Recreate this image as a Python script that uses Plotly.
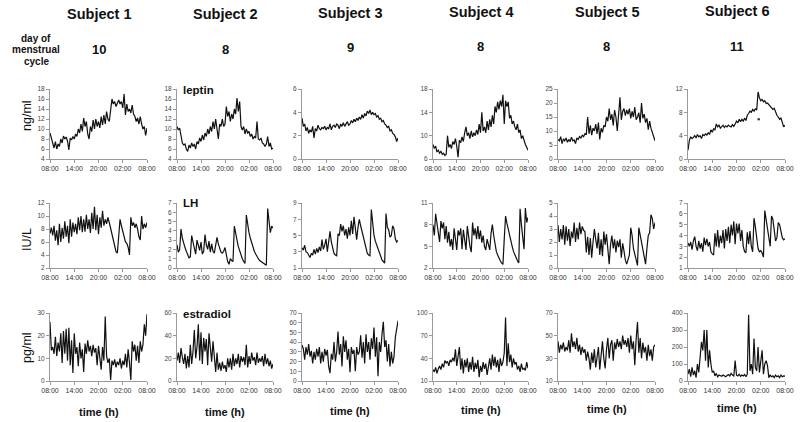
import numpy as np
import plotly.graph_objects as go

subjects = ["Subject 1", "Subject 2", "Subject 3", "Subject 4", "Subject 5", "Subject 6"]
cycle_days = ["10", "8", "9", "8", "8", "11"]
hormones = ["leptin", "LH", "estradiol"]
units = ["ng/ml", "IU/L", "pg/ml"]
time_ticks = [0, 6, 12, 18, 24]
time_labels = ["08:00", "14:00", "20:00", "02:00", "08:00"]

# ---- leptin (ng/ml), 20-min samples from 08:00 to 08:00 ----
leptin_s1 = [9.2, 8.0, 7.0, 6.2, 7.5, 6.0, 7.0, 6.5, 8.0, 7.2, 8.6, 8.0, 8.4, 7.6, 5.8, 8.2, 7.8, 8.5, 8.0, 9.0,
             8.5, 10.0, 9.2, 11.0, 9.5, 12.2, 10.5, 11.5, 9.0, 8.0, 10.5, 9.5, 11.8, 10.0, 12.0, 10.5, 11.5, 10.2,
             12.5, 10.8, 12.8, 11.0, 13.5, 12.0, 11.5, 14.0, 16.0, 15.0, 15.5, 14.5, 15.2, 15.8, 15.0, 15.5, 14.2,
             17.0, 12.8, 15.0, 13.5, 14.0, 13.2, 14.8, 13.0, 12.5, 11.5, 12.2, 11.0, 12.5, 11.0, 10.0, 10.5, 8.7, 10.2]
leptin_s2 = [10.5, 9.8, 10.2, 8.5, 7.2, 6.8, 7.0, 6.0, 5.5, 6.8, 6.2, 7.2, 6.5, 7.0, 6.0, 7.5, 7.0, 8.2, 7.5, 8.8,
             7.8, 9.2, 8.5, 10.0, 9.0, 10.5, 9.5, 11.5, 10.0, 12.0, 9.5, 8.0, 11.0, 10.5, 12.0, 10.5, 11.0, 14.5,
             12.5, 13.5, 11.5, 13.0, 12.0, 14.0, 13.0, 16.2, 13.5, 15.5, 10.5, 9.8, 10.5, 9.0, 10.0, 9.2, 9.5, 8.5,
             9.0, 8.0, 8.5, 8.2, 11.5, 8.0, 7.8, 8.2, 7.2, 7.0, 6.5, 7.0, 8.5, 6.5, 7.2, 6.0, 6.2]
leptin_s3 = [3.5, 2.8, 3.0, 2.4, 2.7, 2.2, 2.5, 2.3, 2.8, 1.8, 2.6, 2.4, 2.9, 2.6, 2.5, 2.7, 2.6, 2.8, 2.5, 2.7,
             2.6, 3.0, 2.5, 2.8, 2.9, 2.7, 3.0, 2.9, 2.6, 3.0, 2.8, 3.1, 2.8, 3.0, 3.2, 2.9, 3.0, 3.3, 3.1, 3.4,
             3.2, 3.5, 3.3, 3.6, 3.4, 3.8, 3.5, 3.9, 3.7, 4.1, 3.9, 4.2, 3.8, 4.0, 3.8, 3.9, 3.6, 3.7, 3.4, 3.5,
             3.2, 3.3, 3.0, 2.9, 2.7, 2.8, 2.4, 2.5, 2.2, 2.1, 1.9, 1.5, 1.8]
leptin_s4 = [8.5, 7.8, 8.2, 7.2, 7.5, 7.0, 7.3, 6.8, 7.0, 6.6, 6.8, 10.0, 8.0, 8.5, 7.8, 9.0, 8.5, 9.5, 8.2, 6.3,
             9.2, 8.8, 9.8, 9.0, 10.5, 11.5, 10.0, 10.5, 9.5, 10.8, 9.8, 10.5, 10.0, 11.0, 10.2, 12.0, 10.5, 14.0,
             10.8, 11.5, 10.5, 12.5, 11.0, 12.8, 11.5, 13.5, 12.0, 15.0, 14.0, 15.8, 14.5, 16.0, 15.0, 17.0, 12.0,
             16.0, 15.0, 15.8, 13.0, 13.5, 12.0, 12.5, 11.5, 11.0, 12.0, 10.5, 11.0, 9.5, 10.0, 9.0, 8.5, 8.0, 7.5]
leptin_s5 = [7.0, 6.5, 8.0, 5.5, 7.2, 6.5, 7.5, 6.0, 7.0, 6.2, 7.8, 6.5, 6.8, 5.5, 7.5, 7.0, 8.0, 7.5, 8.5, 8.0,
             9.0, 8.8, 15.0, 9.0, 12.0, 8.5, 11.0, 10.0, 12.5, 9.0, 13.0, 7.0, 11.0, 9.5, 12.0, 11.5, 15.0, 13.5,
             18.0, 14.0, 16.0, 12.0, 17.5, 15.0, 10.0, 15.0, 22.0, 14.0, 17.0, 18.0, 15.5, 17.5, 16.0, 18.0, 14.5,
             17.0, 15.0, 18.5, 14.0, 15.0, 16.5, 13.0, 20.0, 14.5, 16.0, 13.0, 14.5, 10.5, 13.5, 11.0, 9.5, 8.5, 6.5]
leptin_s6 = [1.5, 3.2, 3.8, 3.5, 3.7, 4.0, 3.6, 4.2, 3.8, 4.0, 3.5, 4.2, 4.0, 4.3, 4.1, 4.5, 4.2, 5.0, 4.6, 5.2,
             5.0, 6.0, 5.5, 5.8, 5.3, 5.6, 5.8, 5.4, 5.7, 5.5, 5.8, 5.6, 5.5, 5.9, 5.6, 6.0, 6.5, 6.2, 6.8, 6.4,
             6.8, 6.5, 7.0, 6.6, 7.5, 7.8, 8.2, 8.0, 8.5, 8.2, 8.6, 8.4, 11.5, 10.5, 10.0, 10.2, 9.8, 10.0, 9.5,
             9.6, 9.3, 9.0, 8.8, 8.5, 8.7, 8.0, 7.5, 7.2, 6.8, 7.0, 6.2, 5.5, 5.8]
leptin_s6_outlier_time = [17.5]
leptin_s6_outlier_value = [6.8]

# ---- LH (IU/L) ----
lh_s1 = [7.3, 8.2, 7.0, 8.5, 6.2, 7.8, 5.5, 8.8, 6.0, 8.2, 6.5, 9.2, 6.8, 8.5, 5.8, 9.5, 6.8, 9.0, 7.5, 8.8,
         7.2, 9.8, 7.8, 10.0, 7.5, 9.5, 7.6, 10.2, 8.0, 9.5, 7.4, 10.5, 8.0, 11.4, 7.8, 10.2, 7.2, 9.8, 8.2, 10.8,
         8.5, 9.5, 8.8, 9.8, 9.0, 8.0, 7.2, 6.0, 5.0, 4.5, 4.3, 7.5, 9.5, 8.5, 7.8, 7.0, 6.0, 5.8, 5.2, 4.0,
         9.8, 8.5, 9.0, 8.2, 8.8, 8.0, 6.8, 6.3, 10.0, 8.0, 8.8, 8.2, 9.0]
lh_s2 = [2.5, 1.7, 2.0, 4.2, 3.2, 2.6, 2.2, 1.8, 1.4, 1.1, 1.2, 3.5, 2.8, 2.0, 1.5, 3.0, 2.4, 1.9, 2.8, 1.5,
         1.8, 3.6, 2.5, 2.0, 2.9, 1.7, 2.6, 1.8, 1.6, 2.5, 3.3, 2.6, 2.0, 1.7, 1.6, 1.8, 2.2, 1.4, 0.7, 0.4,
         1.0, 0.8, 0.7, 4.5, 3.5, 3.0, 2.3, 1.8, 1.3, 1.0, 0.7, 0.5, 5.7, 4.5, 3.8, 3.2, 2.7, 2.2, 1.8, 1.5,
         1.2, 1.0, 0.8, 0.7, 0.6, 0.5, 0.4, 0.3, 6.4, 5.0, 3.8, 4.5, 4.3]
lh_s3 = [3.5, 3.2, 3.8, 3.0, 2.9, 2.6, 2.3, 2.8, 2.6, 3.3, 2.7, 3.4, 2.9, 3.6, 3.1, 4.5, 3.3, 3.8, 4.6, 3.0,
         4.2, 5.5, 4.2, 3.3, 2.8, 2.6, 2.5, 5.2, 5.0, 6.4, 5.5, 6.2, 5.0, 5.8, 4.6, 6.0, 5.0, 6.8, 5.2, 7.3,
         5.5, 4.5, 6.0, 7.0, 6.2, 5.5, 4.8, 3.8, 3.2, 2.8, 2.6, 2.5, 8.2, 6.5, 5.0, 4.3, 3.8, 3.3, 2.8, 2.3,
         2.0, 1.8, 1.6, 7.7, 6.0, 5.7, 4.8, 5.0, 6.2, 5.8, 4.6, 4.2, 4.4]
lh_s4 = [8.0, 6.5, 9.5, 8.2, 7.0, 5.6, 8.5, 7.5, 8.3, 6.0, 7.8, 5.5, 7.0, 5.0, 6.0, 4.5, 7.5, 6.0, 4.5, 7.2,
         6.5, 7.5, 4.6, 7.3, 6.0, 4.5, 7.8, 6.2, 5.0, 4.2, 8.3, 6.5, 7.5, 6.0, 7.8, 6.0, 7.2, 5.5, 6.5, 5.0,
         4.5, 6.0, 5.2, 4.5, 6.8, 8.0, 6.5, 5.2, 4.3, 3.8, 3.3, 3.0, 2.7, 2.5, 6.0, 9.2, 8.2, 7.3, 6.5, 5.7,
         5.0, 4.3, 3.8, 3.3, 3.0, 2.7, 10.2, 8.0, 6.0, 4.6, 10.3, 8.3, 9.0]
lh_s5 = [3.3, 2.0, 3.0, 2.2, 3.3, 1.8, 3.2, 2.1, 3.0, 1.7, 2.8, 2.3, 3.5, 2.0, 3.1, 2.2, 3.5, 2.6, 3.2, 2.9,
         2.8, 1.2, 2.4, 1.0, 2.3, 0.8, 2.0, 3.0, 2.2, 1.5, 2.7, 1.0, 2.2, 0.9, 2.8, 1.8, 2.6, 1.5, 0.3, 1.8,
         2.5, 1.5, 2.2, 1.2, 2.1, 1.6, 2.2, 0.8, 1.9, 1.3, 0.6, 0.3, 0.6, 1.0, 3.1, 2.5, 1.5, 1.0, 0.5, 0.2,
         3.1, 2.5, 2.0, 1.4, 0.6, 0.3, 1.5, 2.5, 2.7, 4.1, 3.8, 3.0, 3.5]
lh_s6 = [3.3, 3.0, 3.4, 2.7, 3.5, 3.9, 3.0, 2.6, 3.5, 2.8, 3.3, 2.5, 3.8, 3.1, 3.7, 3.0, 3.4, 2.5, 2.3, 2.2,
         4.2, 3.0, 4.5, 2.9, 4.0, 3.3, 4.5, 2.8, 4.6, 3.5, 4.8, 3.3, 5.0, 4.0, 5.3, 3.2, 5.1, 4.2, 5.1, 3.5,
         4.5, 3.0, 2.5, 2.4, 4.3, 3.2, 4.4, 3.0, 2.5, 5.6, 4.8, 3.5, 2.8, 2.5, 2.6, 2.4, 2.0, 6.3, 5.5, 4.5,
         3.8, 3.0, 5.8, 5.5, 4.5, 3.5, 3.8, 5.2, 5.0, 4.2, 3.8, 3.6, 3.7]

# ---- estradiol (pg/ml) ----
e2_s1 = [26.0, 13.5, 15.0, 12.0, 19.5, 11.0, 17.0, 13.0, 21.0, 8.0, 22.0, 12.0, 23.0, 9.0, 23.5, 7.0, 18.0, 3.5,
         21.0, 12.0, 15.0, 6.5, 17.0, 10.0, 14.0, 4.0, 16.5, 12.0, 18.0, 13.0, 15.5, 11.0, 16.0, 12.5, 14.5, 7.0,
         15.5, 10.0, 5.0, 15.0, 9.0, 28.5, 11.0, 8.0, 10.0, 0.5, 9.0, 7.0, 9.5, 6.0, 8.5, 7.0, 10.0, 5.5, 9.0,
         7.0, 12.0, 6.0, 14.0, 8.0, 0.5, 17.5, 13.0, 16.0, 9.0, 15.5, 8.0, 17.5, 13.0, 16.0, 25.0, 20.0, 29.5]
e2_s2 = [18, 25, 16, 29, 21, 15, 24, 11, 22, 12, 32, 15, 26, 45, 20, 30, 50, 18, 43, 15, 38, 26, 37, 14, 42,
         28, 17, 35, 19, 8, 25, 10, 16, 9, 17, 11, 14, 8, 20, 12, 20, 10, 24, 13, 20, 15, 24, 12, 22, 17, 21,
         14, 32, 12, 22, 15, 25, 18, 21, 14, 25, 16, 20, 17, 22, 13, 24, 15, 20, 13, 18, 11, 15]
e2_s3 = [37, 33, 22, 35, 27, 38, 25, 31, 18, 30, 22, 33, 25, 35, 18, 30, 20, 33, 26, 32, 15, 8, 28, 22, 40,
         20, 30, 51, 27, 38, 15, 46, 30, 42, 22, 33, 9, 35, 28, 32, 10, 35, 27, 30, 47, 24, 40, 18, 48, 30, 40,
         22, 44, 33, 55, 25, 45, 5, 40, 30, 48, 61, 35, 42, 20, 38, 15, 30, 18, 25, 45, 55, 62]
e2_s4 = [25, 22, 28, 20, 26, 30, 25, 33, 28, 37, 34, 36, 30, 38, 35, 41, 36, 52, 30, 44, 55, 25, 40, 20, 38,
         28, 40, 22, 35, 25, 42, 22, 34, 26, 38, 15, 30, 22, 35, 26, 33, 18, 28, 40, 25, 45, 30, 42, 28, 38, 22,
         40, 30, 35, 47, 94, 30, 60, 35, 45, 28, 40, 32, 35, 25, 30, 22, 33, 25, 27, 24, 35, 27]
e2_s5 = [45, 35, 42, 38, 44, 36, 40, 37, 46, 35, 52, 40, 45, 38, 48, 36, 42, 33, 40, 35, 38, 28, 36, 30, 20,
         35, 26, 38, 22, 30, 40, 20, 32, 45, 30, 21, 38, 48, 30, 42, 46, 28, 44, 38, 47, 40, 45, 38, 50, 42, 46,
         40, 48, 35, 50, 38, 45, 24, 47, 62, 35, 48, 30, 44, 35, 40, 28, 42, 32, 38, 28, 40, 42]
e2_s6 = [40, 70, 25, 80, 35, 60, 20, 100, 50, 130, 230, 180, 300, 120, 300, 80, 180, 100, 50, 60, 30, 45, 25,
         35, 30, 28, 35, 30, 25, 32, 38, 30, 45, 35, 30, 120, 35, 30, 40, 28, 35, 30, 38, 25, 40, 390, 60, 100,
         40, 250, 80, 60, 200, 50, 110, 180, 40, 100, 120, 90, 20, 35, 25, 30, 20, 35, 25, 30, 20, 35, 25, 30, 28]

series = [
    [leptin_s1, leptin_s2, leptin_s3, leptin_s4, leptin_s5, leptin_s6],
    [lh_s1, lh_s2, lh_s3, lh_s4, lh_s5, lh_s6],
    [e2_s1, e2_s2, e2_s3, e2_s4, e2_s5, e2_s6],
]

y_ranges = [
    [[4, 18], [4, 18], [0, 6], [6, 18], [0, 25], [0, 12]],
    [[2, 12], [0, 7], [1, 9], [2, 11], [0, 5], [1, 7]],
    [[0, 30], [0, 60], [0, 70], [10, 100], [10, 70], [0, 400]],
]
y_ticks = [
    [[4, 6, 8, 10, 12, 14, 16, 18], [4, 6, 8, 10, 12, 14, 16, 18], [0, 2, 4, 6], [6, 10, 14, 18],
     [0, 5, 10, 15, 20, 25], [0, 4, 8, 12]],
    [[2, 4, 6, 8, 10, 12], [0, 1, 2, 3, 4, 5, 6, 7], [1, 3, 5, 7, 9], [2, 5, 8, 11], [0, 1, 2, 3, 4, 5],
     [1, 2, 3, 4, 5, 6, 7]],
    [[0, 10, 20, 30], [0, 20, 40, 60], [0, 10, 20, 30, 40, 50, 60, 70], [10, 40, 70, 100], [10, 30, 50, 70],
     [0, 100, 200, 300, 400]],
]

W, H = 800, 422
col_px = [(50, 147), (177, 273), (302, 398), (433, 528), (558, 655), (688, 785)]
row_px = [(89, 159), (203, 268), (313, 381)]

FONT = "Arial, Liberation Sans, Helvetica, sans-serif"
fig = go.Figure()
layout = {}
n = 0
for r in range(3):
    for c in range(6):
        n += 1
        vals = series[r][c]
        t = np.linspace(0, 24, len(vals))
        xa = "x" if n == 1 else f"x{n}"
        ya = "y" if n == 1 else f"y{n}"
        fig.add_trace(go.Scatter(x=t, y=vals, mode="lines", xaxis=xa, yaxis=ya,
                                 line=dict(color="#111", width=1.2), hoverinfo="skip"))
        x0, x1 = col_px[c]
        yt, yb = row_px[r]
        layout["xaxis" if n == 1 else f"xaxis{n}"] = dict(
            domain=[x0 / W, x1 / W], anchor=ya, range=[0, 24], tickvals=time_ticks, ticktext=time_labels,
            showgrid=False, zeroline=False, showline=True, linecolor="#999", linewidth=1, automargin=False,
            ticks="outside", ticklen=3, tickcolor="#999", tickfont=dict(family=FONT, size=7, color="#333"))
        layout["yaxis" if n == 1 else f"yaxis{n}"] = dict(
            domain=[1 - yb / H, 1 - yt / H], anchor=xa, range=y_ranges[r][c], tickvals=y_ticks[r][c],
            showgrid=False, zeroline=False, showline=True, linecolor="#999", linewidth=1, automargin=False,
            ticks="outside", ticklen=3, tickcolor="#999", tickfont=dict(family=FONT, size=6.5, color="#444"))

# single outlying leptin sample in subject 6
fig.add_trace(go.Scatter(x=leptin_s6_outlier_time, y=leptin_s6_outlier_value, mode="markers",
                         xaxis="x6", yaxis="y6", marker=dict(color="#333", size=2.5), hoverinfo="skip"))

ann = []
def add_text(text, px, py, size, bold=False, xanchor="center", angle=0):
    ann.append(dict(text=f"<b>{text}</b>" if bold else text, x=px / W, y=1 - py / H, xref="paper", yref="paper",
                    showarrow=False, xanchor=xanchor, yanchor="middle", textangle=angle,
                    font=dict(family=FONT, size=size, color="#111")))

title_y = [14, 14, 13, 12, 12, 11]
day_y = [49, 49, 48, 47, 47, 46]
time_y = [412, 412, 411, 410, 409, 408]
for c in range(6):
    cx = (col_px[c][0] + col_px[c][1]) / 2
    add_text(subjects[c], cx, title_y[c], 14.5, bold=True)
    add_text(cycle_days[c], cx, day_y[c], 13, bold=True)
    add_text("time (h)", cx, time_y[c], 11, bold=True)

add_text("day of", 36, 38, 10, bold=True)
add_text("menstrual", 36, 49.5, 10, bold=True)
add_text("cycle", 36, 61, 10, bold=True)

unit_y = [116, 240, 348]
for r in range(3):
    add_text(units[r], 27, unit_y[r], 12.5, angle=-90)

hormone_pos = [(181, 90), (181, 203), (181, 314)]
for r in range(3):
    add_text(hormones[r], hormone_pos[r][0], hormone_pos[r][1], 11.5, bold=True, xanchor="left")

fig.update_layout(**layout)
fig.update_layout(template="none", width=W, height=H, margin=dict(l=0, r=0, t=0, b=0, pad=0),
                  showlegend=False, plot_bgcolor="white", paper_bgcolor="white", annotations=ann,
                  hovermode=False)
fig.write_html("out.html", config={"displayModeBar": False, "staticPlot": True},
               post_script="document.body.style.margin='0px';document.body.style.overflow='hidden';")
